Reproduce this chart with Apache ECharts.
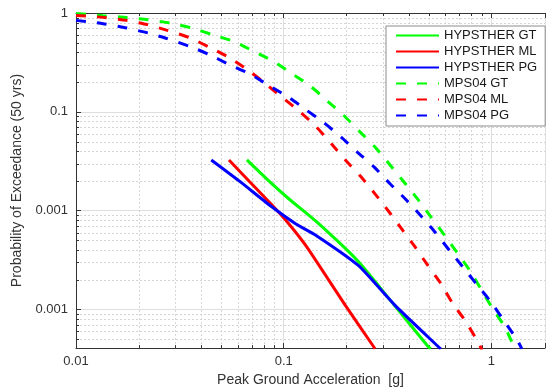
<!DOCTYPE html>
<html>
<head>
<meta charset="utf-8">
<script src="https://cdn.jsdelivr.net/npm/echarts@6/dist/echarts.min.js"></script>
<style>
html,body{margin:0;padding:0;background:#fff;}
#chart{width:548px;height:392px;}
</style>
</head>
<body>
<div id="chart"></div>
<script>
// ---- axis ranges & ticks ----
const X_MIN = 0.01, X_MAX = 1.81;
const Y_MIN = 4.07e-4, Y_MAX = 1;
const xTickValues = [0.01, 0.1, 1];
const xTickLabels = ['0.01', '0.1', '1'];
const yTickValues = [1, 0.1, 0.01, 0.001];
const yTickLabels = ['1', '0.1', '0.001', '0.001'];
const xMinor = [0.02, 0.03, 0.04, 0.05, 0.06, 0.07, 0.08, 0.09, 0.2, 0.3, 0.4, 0.5, 0.6, 0.7, 0.8, 0.9];
const yMinor = [0.0005, 0.0006, 0.0007, 0.0008, 0.0009, 0.002, 0.003, 0.004, 0.005, 0.006, 0.007, 0.008, 0.009,
                0.02, 0.03, 0.04, 0.05, 0.06, 0.07, 0.08, 0.09, 0.2, 0.3, 0.4, 0.5, 0.6, 0.7, 0.8, 0.9];

// ---- series ----
const seriesNames = ['HYPSTHER GT', 'HYPSTHER ML', 'HYPSTHER PG', 'MPS04 GT', 'MPS04 ML', 'MPS04 PG'];
const hypGT = [[0.0665,0.0326],[0.0847,0.020],[0.1057,0.0132],[0.1437,0.00773],[0.2285,0.00306],[0.329,0.00121],[0.494,0.000425],[0.51,0.0004]];
const hypML = [[0.0545,0.0326],[0.068,0.020],[0.0867,0.01175],[0.1057,0.00738],[0.1288,0.00432],[0.198,0.0011],[0.270,0.000425],[0.275,0.0004]];
const hypPG = [[0.0448,0.0326],[0.061,0.020],[0.0876,0.01094],[0.114,0.00738],[0.1437,0.00559],[0.2285,0.00279],[0.3434,0.0011],[0.552,0.000425],[0.57,0.0004]];
const mpsGT = [[0.01,0.99],[0.0135,0.94],[0.0175,0.90],[0.0221,0.856],[0.0282,0.793],[0.0359,0.706],[0.0452,0.605],[0.0577,0.514],[0.0719,0.408],[0.0895,0.323],[0.109,0.245],[0.135,0.181],[0.1625,0.128],[0.194,0.0924],[0.231,0.0638],[0.275,0.044],[0.325,0.029],[0.379,0.0195],[0.433,0.0138],[0.51,0.0087],[0.596,0.0056],[0.687,0.0037],[0.785,0.0025],[0.886,0.00164],[1.01,0.00103],[1.154,0.00068],[1.274,0.000436],[1.31,0.00039]];
const mpsML = [[0.01,0.946],[0.0135,0.903],[0.0175,0.842],[0.0221,0.762],[0.0275,0.668],[0.0351,0.564],[0.0438,0.451],[0.0545,0.355],[0.0665,0.269],[0.0802,0.199],[0.0967,0.144],[0.1205,0.099],[0.144,0.070],[0.170,0.0472],[0.200,0.0318],[0.236,0.0219],[0.275,0.0148],[0.321,0.00975],[0.375,0.00627],[0.428,0.00432],[0.494,0.00279],[0.570,0.00184],[0.651,0.00115],[0.751,0.00076],[0.857,0.000478],[0.90,0.00039]];
const mpsPG = [[0.01,0.842],[0.0135,0.78],[0.0175,0.706],[0.0221,0.629],[0.0275,0.551],[0.0351,0.461],[0.0438,0.380],[0.0545,0.301],[0.068,0.245],[0.083,0.190],[0.1057,0.140],[0.127,0.106],[0.155,0.0785],[0.189,0.0554],[0.226,0.0392],[0.272,0.0277],[0.325,0.0187],[0.384,0.0132],[0.457,0.0089],[0.533,0.00613],[0.629,0.00394],[0.726,0.00272],[0.857,0.00175],[0.989,0.00121],[1.154,0.00076],[1.331,0.00049],[1.40,0.00040]];
const seriesData = [hypGT, hypML, hypPG, mpsGT, mpsML, mpsPG];
const seriesColors = ['#00ff00', '#ff0000', '#0000ff', '#00ff00', '#ff0000', '#0000ff'];
const seriesDashed = [false, false, false, true, true, true];

const FONT = '"Liberation Sans", Arial, Helvetica, sans-serif';
const AXIS_COLOR = '#333333';

function tickFormatter(values, labels) {
  return function (v) {
    for (let i = 0; i < values.length; i++) {
      if (Math.abs(Math.log10(v) - Math.log10(values[i])) < 1e-6) return labels[i];
    }
    return '';
  };
}

const chart = echarts.init(document.getElementById('chart'), null, {renderer: 'canvas'});

const baseAxis = {
  type: 'log', logBase: 10,
  axisLine: {show: true, lineStyle: {color: AXIS_COLOR, width: 1}},
  axisTick: {show: true, inside: true, length: 5, lineStyle: {color: AXIS_COLOR}},
  splitLine: {show: false},
  minorTick: {show: false},
  minorSplitLine: {show: false}
};

const lineSeries = seriesNames.map((name, i) => ({
  name: name,
  type: 'line',
  data: seriesData[i],
  xAxisIndex: 0, yAxisIndex: 0,
  symbol: 'none',
  showSymbol: false,
  smooth: seriesDashed[i] ? 0.2 : 0.2,
  clip: true,
  z: 3,
  color: seriesColors[i],
  lineStyle: {color: seriesColors[i], width: 3, type: seriesDashed[i] ? [10, 11] : 'solid', cap: 'butt'},
  itemStyle: {color: seriesColors[i]}
}));

const minorXSeries = {
  type: 'custom', silent: true, z: 1, clip: false,
  xAxisIndex: 0, yAxisIndex: 0,
  data: xMinor.map(v => [v, Y_MIN]),
  renderItem: function (params, api) {
    const v = api.value(0);
    const p0 = api.coord([v, Y_MIN]);
    const p1 = api.coord([v, Y_MAX]);
    const x = Math.round(p0[0]) + 0.5;
    return {type: 'group', children: [
      {type: 'line', shape: {x1: x, y1: p0[1], x2: x, y2: p1[1]}, style: {stroke: '#d4d4d4', lineWidth: 1, lineDash: [2, 2]}},
      {type: 'line', shape: {x1: x, y1: p0[1], x2: x, y2: p0[1] - 3}, style: {stroke: AXIS_COLOR, lineWidth: 1}},
      {type: 'line', shape: {x1: x, y1: p1[1], x2: x, y2: p1[1] + 3}, style: {stroke: AXIS_COLOR, lineWidth: 1}}
    ]};
  }
};

const minorYSeries = {
  type: 'custom', silent: true, z: 1, clip: false,
  xAxisIndex: 0, yAxisIndex: 0,
  data: yMinor.map(v => [X_MIN, v]),
  renderItem: function (params, api) {
    const v = api.value(1);
    const p0 = api.coord([X_MIN, v]);
    const p1 = api.coord([X_MAX, v]);
    const y = Math.round(p0[1]) + 0.5;
    return {type: 'group', children: [
      {type: 'line', shape: {x1: p0[0], y1: y, x2: p1[0], y2: y}, style: {stroke: '#d4d4d4', lineWidth: 1, lineDash: [2, 2]}},
      {type: 'line', shape: {x1: p0[0], y1: y, x2: p0[0] + 3, y2: y}, style: {stroke: AXIS_COLOR, lineWidth: 1}}
    ]};
  }
};

const option = {
  backgroundColor: '#ffffff',
  animation: false,
  textStyle: {fontFamily: FONT},
  grid: {left: 76, top: 13, right: 0, bottom: 42, containLabel: false},
  legend: {
    data: seriesNames,
    orient: 'vertical',
    left: 386, top: 26,
    padding: [3, 8, 4, 9],
    itemWidth: 43, itemHeight: 10, itemGap: 3,
    itemStyle: {opacity: 0},
    backgroundColor: '#ffffff',
    borderColor: '#8c8c8c', borderWidth: 1,
    textStyle: {fontFamily: FONT, fontSize: 13, color: '#1a1a1a', padding: [0, 0, 0, 0]},
    selectedMode: false
  },
  xAxis: [
    Object.assign({}, baseAxis, {
      min: X_MIN, max: X_MAX, position: 'bottom',
      name: 'Peak Ground Acceleration  [g]', nameLocation: 'middle', nameGap: 23,
      nameTextStyle: {fontFamily: FONT, fontSize: 14, color: '#333'},
      axisLabel: {formatter: tickFormatter(xTickValues, xTickLabels), margin: 7, fontFamily: FONT, fontSize: 13, color: '#333', showMinLabel: true, showMaxLabel: true},
      splitLine: {show: true, lineStyle: {color: '#dedede', width: 1}}
    }),
    Object.assign({}, baseAxis, {
      min: X_MIN, max: X_MAX, position: 'top',
      axisLabel: {show: false}
    })
  ],
  yAxis: [
    Object.assign({}, baseAxis, {
      min: Y_MIN, max: Y_MAX, position: 'left',
      name: 'Probability of Exceedance (50 yrs)', nameLocation: 'middle', nameGap: 43,
      nameTextStyle: {fontFamily: FONT, fontSize: 14, color: '#333'},
      axisLabel: {formatter: tickFormatter(yTickValues, yTickLabels), margin: 8, fontFamily: FONT, fontSize: 13, color: '#333', showMinLabel: true, showMaxLabel: true},
      splitLine: {show: true, lineStyle: {color: '#dedede', width: 1}}
    }),
    Object.assign({}, baseAxis, {
      min: Y_MIN, max: Y_MAX, position: 'right',
      axisLine: {show: false}, axisTick: {show: false},
      axisLabel: {show: false}
    })
  ],
  series: [minorXSeries, minorYSeries].concat(lineSeries)
};

chart.setOption(option);
</script>
</body>
</html>
